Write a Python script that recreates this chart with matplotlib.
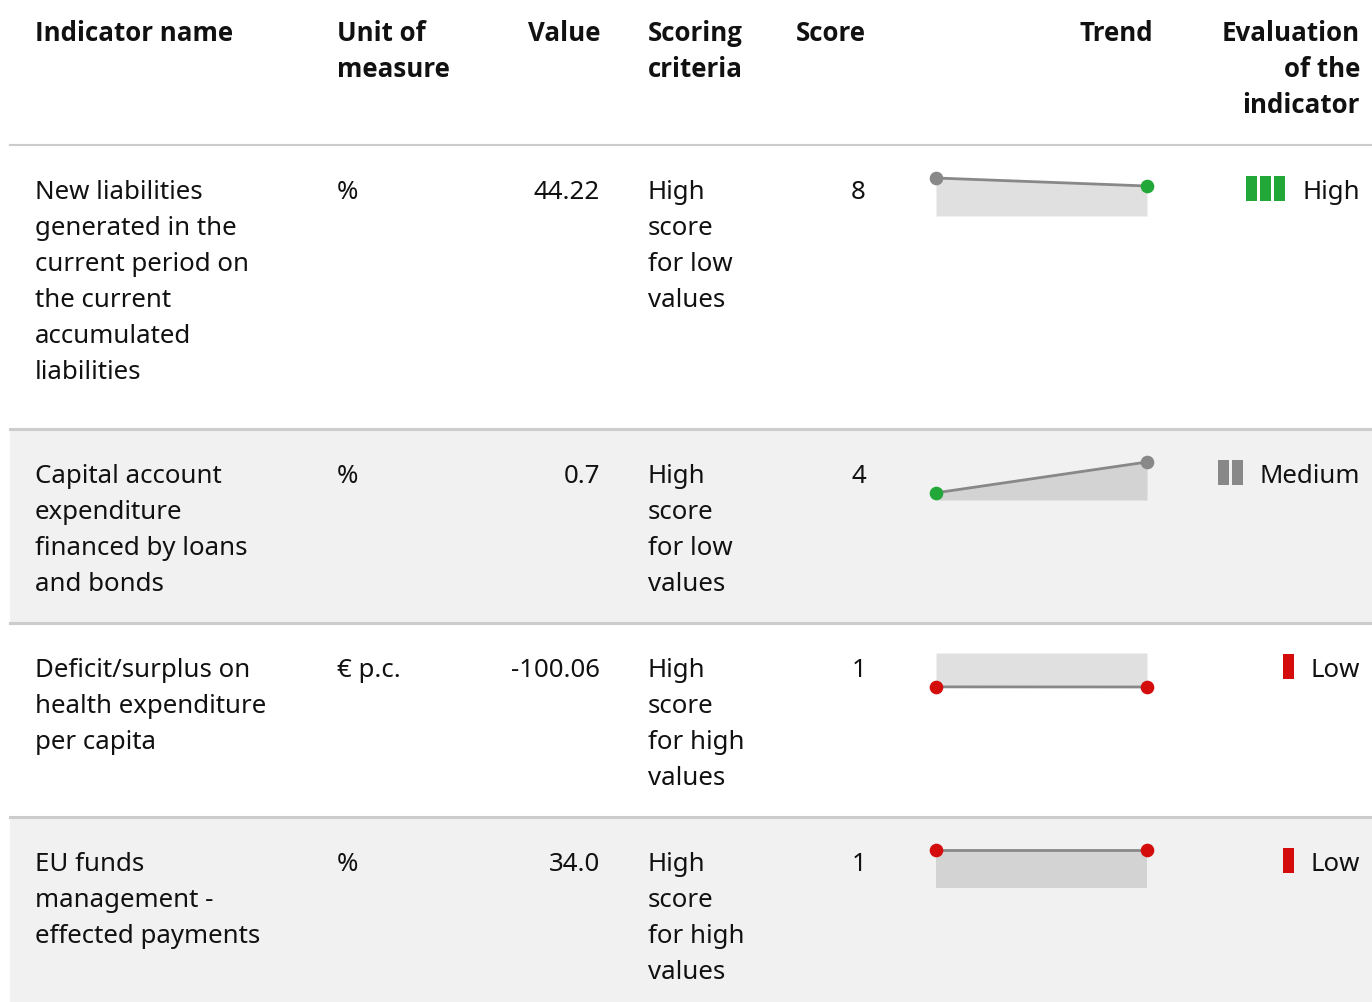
import matplotlib
matplotlib.use("Agg")
import matplotlib.pyplot as plt
from matplotlib.patches import Rectangle
from matplotlib import font_manager

plt.rcParams['font.family'] = ['Noto Sans', 'DejaVu Sans']

# data
headers = ["Indicator name", "Unit of\nmeasure", "Value", "Scoring\ncriteria",
           "Score", "Trend", "Evaluation\nof the\nindicator"]
names = ["New liabilities\ngenerated in the\ncurrent period on\nthe current\naccumulated\nliabilities",
         "Capital account\nexpenditure\nfinanced by loans\nand bonds",
         "Deficit/surplus on\nhealth expenditure\nper capita",
         "EU funds\nmanagement -\neffected payments"]
units = ["%", "%", "€ p.c.", "%"]
values = ["44.22", "0.7", "-100.06", "34.0"]
criteria = ["High\nscore\nfor low\nvalues", "High\nscore\nfor low\nvalues",
            "High\nscore\nfor high\nvalues", "High\nscore\nfor high\nvalues"]
scores = [8, 4, 1, 1]
trend_prev = [56.0, 0.7, -99.7, 34.0]
trend_curr = [44.22, 3.7, -100.06, 34.0]
trend_colors = [["#888888", "#22a838"], ["#22a838", "#888888"],
                ["#d40c0c", "#d40c0c"], ["#d40c0c", "#d40c0c"]]
evaluations = ["High", "Medium", "Low", "Low"]

eval_style = {"High": (3, "#22a838"), "Medium": (2, "#888888"), "Low": (1, "#d40c0c")}

# pick a family that really has a bold face
bold_family = "DejaVu Sans"
for fam in ["Noto Sans", "Open Sans", "Lato", "Inter", "Roboto"]:
    try:
        f = font_manager.findfont(font_manager.FontProperties(family=fam, weight="bold"),
                                  fallback_to_default=False)
        if "bold" in f.lower():
            bold_family = fam
            break
    except Exception:
        pass

W, H = 1372, 1003
fig = plt.figure(figsize=(W / 100, H / 100), dpi=100)
ax = fig.add_axes([0, 0, 1, 1])
ax.set_xlim(0, W)
ax.set_ylim(H, 0)
ax.axis("off")

FS = 18.6
LINE = 36
TXT = "#111111"

# row layout (pixel)
row_top = [146, 430, 624, 818]
row_bot = [430, 624, 818, 1003]
row_bg = ["white", "#f1f1f1", "white", "#f1f1f1"]


def draw_lines(x, y0, s, ha, bold=False):
    for i, line in enumerate(s.split("\n")):
        if bold:
            ax.text(x, y0 + 9 + i * LINE, line, ha=ha, va="baseline",
                    fontsize=FS, color=TXT, fontweight="bold",
                    family=[bold_family, "DejaVu Sans"])
        else:
            ax.text(x, y0 + 9 + i * LINE, line, ha=ha, va="baseline",
                    fontsize=FS, color=TXT)


# columns: (x, ha)
cols = [(35, "left"), (337, "left"), (600, "right"), (648, "left"),
        (796, "left"), (1153, "right"), (1360, "right")]

for (x, ha), h in zip(cols, headers):
    draw_lines(x, 32, h, ha, bold=True)

for i in range(4):
    ax.add_patch(Rectangle((10, row_top[i]), W - 10, row_bot[i] - row_top[i],
                           facecolor=row_bg[i], edgecolor="none", zorder=0))
    y0 = row_top[i] + 44
    draw_lines(35, y0, names[i], "left")
    draw_lines(337, y0, units[i], "left")
    draw_lines(600, y0, values[i], "right")
    draw_lines(648, y0, criteria[i], "left")
    draw_lines(866, y0, str(scores[i]), "right")

    # evaluation text + bars icon
    t = ax.text(1360, y0 + 9, evaluations[i], ha="right", va="baseline",
                fontsize=FS, color=TXT)
    fig.canvas.draw()
    bb = t.get_window_extent().transformed(ax.transData.inverted())
    n, c = eval_style[evaluations[i]]
    right = bb.x0 - 17
    bw, gap = 11, 3
    for k in range(n):
        ax.add_patch(Rectangle((right - (k + 1) * bw - k * gap, y0 - 13), bw, 25,
                               facecolor=c, edgecolor="none"))

    # sparkline
    vals = [trend_prev[i], trend_curr[i]]
    lo, hi = min(0, min(vals)), max(0, max(vals))
    if lo < 0:
        top, sh = y0 - 14, 34
    else:
        top, sh = y0 - 11, 38
    sax = fig.add_axes([936 / W, 1 - (top + sh) / H, (1147 - 936) / W, sh / H])
    sax.set_xlim(0, 1)
    sax.set_ylim(lo, hi)
    sax.axis("off")
    sax.patch.set_alpha(0)
    xs = [0, 1]
    sax.fill_between(xs, vals, 0, color="black", alpha=0.12, linewidth=0)
    sax.plot(xs, vals, color="#888888", linewidth=2, clip_on=False, zorder=2)
    for xv, yv, mc in zip(xs, vals, trend_colors[i]):
        sax.plot([xv], [yv], "o", color=mc, markersize=8.8, clip_on=False, zorder=3)

# separators
ax.plot([10, W], [146, 146], color="#cccccc", linewidth=1.5)
for yb in row_bot[:3]:
    ax.plot([10, W], [yb, yb], color="#cccccc", linewidth=2.2)

fig.savefig("out.png", dpi=100)
